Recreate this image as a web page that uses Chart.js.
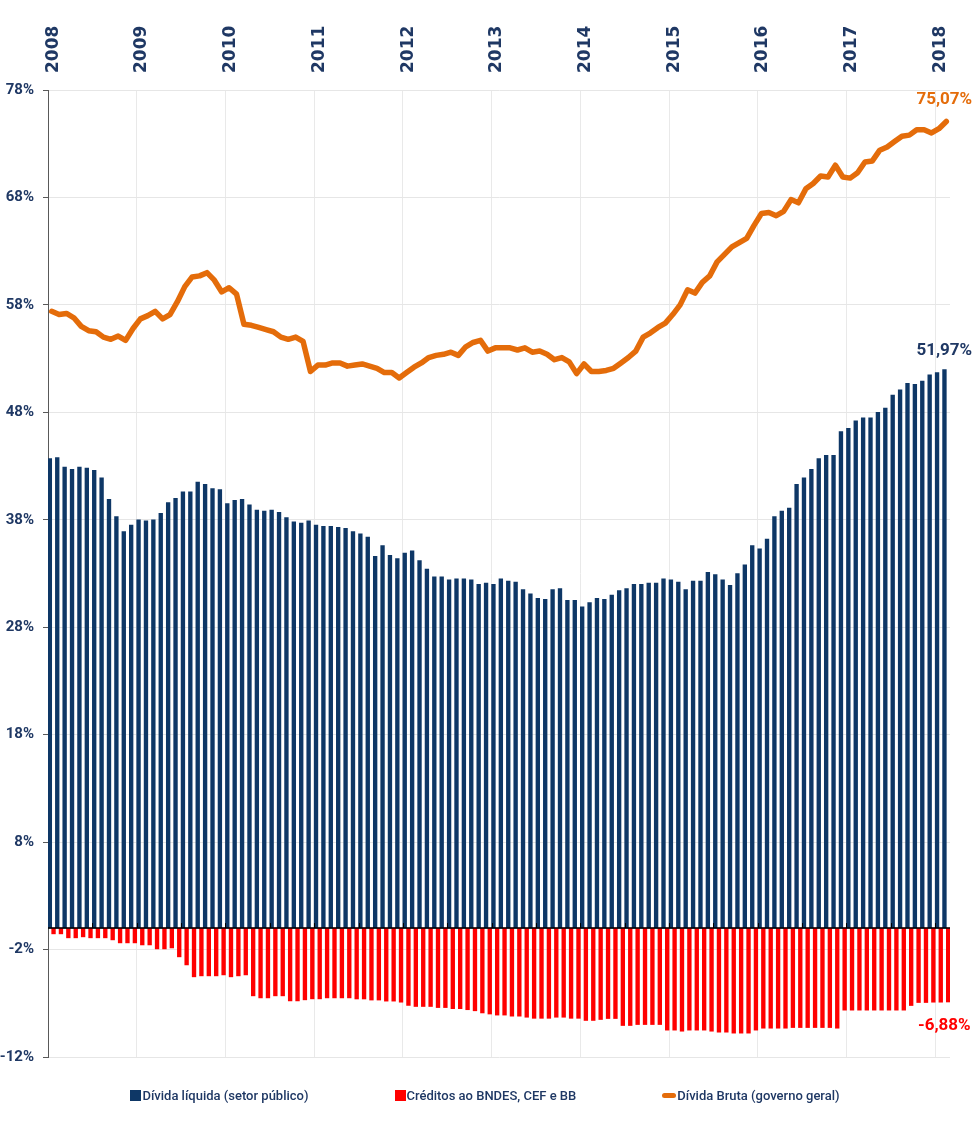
<!DOCTYPE html>
<html lang="pt-BR">
<head>
<meta charset="utf-8">
<title>Dívida pública</title>
<script src="https://cdn.jsdelivr.net/npm/chart.js@4.4.1/dist/chart.umd.min.js"></script>
<style>
  html, body { margin: 0; padding: 0; background: #fff; }
  #wrap { position: relative; width: 976px; height: 1129px; }
  #legend {
    position: absolute; left: 0; top: 1088px; width: 970px;
    display: flex; justify-content: center; gap: 86px;
    font: 500 13px Roboto, 'DejaVu Sans Condensed', sans-serif;
    color: #1f3864;
  }
  .item { display: flex; align-items: center; white-space: nowrap; }
  .swatch { width: 11px; height: 11px; margin-right: 1px; }
  .swatch.line { width: 14px; height: 5px; border-radius: 3px; }
</style>
</head>
<body>
<div id="wrap">
  <canvas id="chart" width="976" height="1129"></canvas>
  <div id="legend"></div>
</div>
<script>
// monthly categories, Jan 2008 - Feb 2018
const yearLabels = ['2008', '2009', '2010', '2011', '2012', '2013', '2014', '2015', '2016', '2017', '2018'];
const months = [];
yearLabels.forEach(y => {
  for (let m = 1; m <= 12; m++) {
    if (y === '2018' && m > 2) break;
    months.push(y + '-' + String(m).padStart(2, '0'));
  }
});

const yTicks = [-12, -2, 8, 18, 28, 38, 48, 58, 68, 78];

// Dívida líquida (setor público), % PIB
const dividaLiquida = [
  43.7, 43.8, 42.9, 42.7, 42.9, 42.8, 42.6, 41.9, 39.9, 38.3, 36.9, 37.5,
  38.0, 37.9, 38.0, 38.6, 39.6, 40.0, 40.6, 40.6, 41.5, 41.3, 40.9, 40.8,
  39.5, 39.8, 39.9, 39.4, 38.9, 38.8, 38.9, 38.7, 38.2, 37.8, 37.7, 37.9,
  37.5, 37.4, 37.4, 37.3, 37.2, 36.9, 36.7, 36.4, 34.6, 35.6, 34.7, 34.4,
  34.9, 35.1, 34.2, 33.4, 32.7, 32.7, 32.4, 32.5, 32.5, 32.4, 32.0, 32.1,
  32.0, 32.5, 32.3, 32.2, 31.5, 31.1, 30.7, 30.6, 31.5, 31.6, 30.5, 30.5,
  29.9, 30.3, 30.7, 30.6, 31.0, 31.4, 31.6, 32.0, 32.0, 32.1, 32.1, 32.5,
  32.4, 32.2, 31.5, 32.3, 32.3, 33.1, 32.9, 32.4, 31.9, 33.0, 33.8, 35.6,
  35.3, 36.2, 38.3, 38.8, 39.1, 41.3, 41.9, 42.7, 43.7, 44.0, 44.0, 46.2,
  46.5, 47.2, 47.5, 47.5, 48.0, 48.4, 49.6, 50.1, 50.7, 50.6, 50.9, 51.5,
  51.7, 51.97
];

// Créditos ao BNDES, CEF e BB, % PIB
const creditosBancos = [
  -0.54, -0.54, -0.91, -0.91, -0.82, -0.91, -0.91, -0.91, -1.10, -1.38, -1.38, -1.38,
  -1.57, -1.57, -1.94, -1.94, -1.85, -2.68, -3.43, -4.54, -4.45, -4.45, -4.45, -4.36,
  -4.54, -4.45, -4.36, -6.31, -6.50, -6.50, -6.31, -6.31, -6.78, -6.78, -6.68, -6.59,
  -6.59, -6.50, -6.50, -6.50, -6.50, -6.60, -6.60, -6.70, -6.70, -6.80, -6.80, -6.90,
  -7.20, -7.30, -7.30, -7.30, -7.40, -7.40, -7.50, -7.50, -7.60, -7.70, -7.90, -8.00,
  -8.10, -8.10, -8.20, -8.20, -8.30, -8.40, -8.40, -8.40, -8.30, -8.30, -8.40, -8.40,
  -8.60, -8.60, -8.51, -8.42, -8.42, -9.07, -9.07, -8.98, -8.98, -8.98, -8.98, -9.50,
  -9.50, -9.60, -9.50, -9.50, -9.50, -9.60, -9.69, -9.69, -9.78, -9.78, -9.78, -9.50,
  -9.32, -9.32, -9.32, -9.32, -9.26, -9.26, -9.26, -9.26, -9.26, -9.26, -9.32, -7.64,
  -7.64, -7.64, -7.64, -7.64, -7.64, -7.64, -7.64, -7.64, -7.21, -6.93, -6.93, -6.90,
  -6.90, -6.88
];

// Dívida Bruta (governo geral), % PIB
const dividaBruta = [
  57.4, 57.1, 57.2, 56.8, 56.0, 55.6, 55.5, 55.0, 54.8, 55.1, 54.7, 55.8,
  56.7, 57.0, 57.4, 56.7, 57.1, 58.3, 59.7, 60.6, 60.7, 61.0, 60.3, 59.2,
  59.6, 59.0, 56.2, 56.1, 55.9, 55.7, 55.5, 55.0, 54.8, 55.0, 54.6, 51.8,
  52.4, 52.4, 52.6, 52.6, 52.3, 52.4, 52.5, 52.3, 52.1, 51.7, 51.7, 51.2,
  51.7, 52.2, 52.6, 53.1, 53.3, 53.4, 53.6, 53.3, 54.1, 54.5, 54.7, 53.7,
  54.0, 54.0, 54.0, 53.8, 54.0, 53.6, 53.7, 53.4, 52.9, 53.1, 52.7, 51.6,
  52.5, 51.8, 51.8, 51.9, 52.1, 52.6, 53.1, 53.7, 55.0, 55.4, 55.9, 56.3,
  57.1, 58.0, 59.4, 59.1, 60.1, 60.7, 62.0, 62.7, 63.4, 63.8, 64.2, 65.4,
  66.5, 66.6, 66.3, 66.7, 67.8, 67.5, 68.8, 69.3, 70.0, 69.9, 71.0, 69.9,
  69.8, 70.3, 71.3, 71.4, 72.4, 72.7, 73.2, 73.7, 73.8, 74.3, 74.3, 74.0,
  74.4, 75.07
];

const NAVY = '#0e3766';
const RED = '#ff0000';
const ORANGE = '#e46c0a';
const TEXT = '#1f3864';
const NARROW = "Roboto, 'DejaVu Sans Condensed', sans-serif";

// zero line, half-year marks and the end-of-series labels
const extrasPlugin = {
  id: 'extras',
  afterDatasetsDraw(chart) {
    const { ctx, chartArea, scales: { x, y } } = chart;
    const y0 = y.getPixelForValue(0);
    const step = x.width / months.length;
    ctx.save();
    ctx.strokeStyle = '#000';
    ctx.lineWidth = 1.5;
    ctx.beginPath();
    ctx.moveTo(chartArea.left, y0);
    ctx.lineTo(chartArea.right, y0);
    ctx.stroke();
    ctx.lineWidth = 1;
    for (let i = 6; i < months.length; i += 6) {
      const px = Math.round(x.getPixelForValue(i) - step / 2) + 0.5;
      ctx.beginPath();
      ctx.moveTo(px, y0);
      ctx.lineTo(px, y0 - 5);
      ctx.stroke();
    }

    const last = months.length - 1;
    const lx = x.getPixelForValue(last) - 2;
    const labels = [
      { v: dividaBruta[last], color: ORANGE, dy: -22 },
      { v: dividaLiquida[last], color: TEXT, dy: -19 },
      { v: creditosBancos[last], color: RED, dy: 24 }
    ];
    ctx.font = 'bold 17px ' + NARROW;
    ctx.textAlign = 'center';
    ctx.textBaseline = 'middle';
    labels.forEach(l => {
      ctx.fillStyle = l.color;
      ctx.fillText(l.v.toFixed(2).replace('.', ',') + '%', lx, y.getPixelForValue(l.v) + l.dy);
    });
    ctx.restore();
  }
};

const series = [
  { label: 'Dívida líquida (setor público)', color: NAVY, kind: 'box' },
  { label: 'Créditos ao BNDES, CEF e BB', color: RED, kind: 'box' },
  { label: 'Dívida Bruta (governo geral)', color: ORANGE, kind: 'line' }
];

const ctx = document.getElementById('chart').getContext('2d');
new Chart(ctx, {
  type: 'bar',
  data: {
    labels: months,
    datasets: [
      {
        type: 'line',
        label: series[2].label,
        data: dividaBruta,
        borderColor: ORANGE,
        backgroundColor: ORANGE,
        borderWidth: 5.5,
        pointRadius: 0,
        tension: 0,
        borderJoinStyle: 'round',
        borderCapStyle: 'round',
        order: 0
      },
      {
        label: series[0].label,
        data: dividaLiquida,
        backgroundColor: NAVY,
        categoryPercentage: 1,
        barPercentage: 1,
        order: 1
      },
      {
        label: series[1].label,
        data: creditosBancos,
        backgroundColor: RED,
        categoryPercentage: 1,
        barPercentage: 1,
        order: 1
      }
    ]
  },
  options: {
    responsive: false,
    animation: false,
    layout: { padding: { top: 0, right: 26, bottom: 72, left: 0 } },
    plugins: {
      legend: { display: false },
      tooltip: { enabled: false }
    },
    scales: {
      x: {
        position: 'top',
        offset: true,
        border: { display: false },
        grid: {
          offset: true,
          drawTicks: false,
          color: c => (c.index !== undefined && c.index % 12 === 0) ? '#e9e9e9' : 'rgba(0,0,0,0)'
        },
        ticks: {
          autoSkip: false,
          minRotation: 90,
          maxRotation: 90,
          padding: 17,
          labelOffset: 22,
          color: TEXT,
          font: { family: "'DejaVu Sans', sans-serif", size: 17, weight: 'bold' },
          callback: (val, idx) => idx % 12 === 0 ? yearLabels[idx / 12] : ''
        },
        afterFit: scale => { scale.height = 90; }
      },
      y: {
        min: -12,
        max: 78,
        border: { display: true, color: '#595959', width: 1 },
        grid: { color: '#e6e6e6', tickColor: '#595959', tickLength: 5 },
        afterBuildTicks: scale => { scale.ticks = yTicks.map(v => ({ value: v })); },
        afterFit: scale => { scale.width = 48; },
        ticks: {
          padding: 9,
          color: TEXT,
          font: { family: NARROW, size: 15, weight: 'bold' },
          callback: v => v + '%'
        }
      }
    }
  },
  plugins: [extrasPlugin]
});

// legend below the plot
const legendEl = document.getElementById('legend');
series.forEach(s => {
  const item = document.createElement('div');
  item.className = 'item';
  const sw = document.createElement('span');
  sw.className = 'swatch' + (s.kind === 'line' ? ' line' : '');
  sw.style.background = s.color;
  const txt = document.createElement('span');
  txt.textContent = s.label;
  item.appendChild(sw);
  item.appendChild(txt);
  legendEl.appendChild(item);
});
</script>
</body>
</html>
